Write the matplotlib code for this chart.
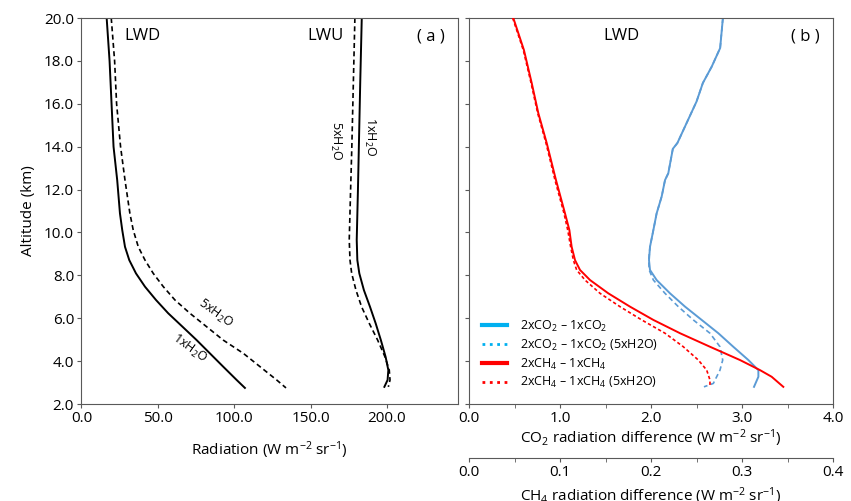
import matplotlib
matplotlib.use("Agg")
import matplotlib.pyplot as plt
from matplotlib.lines import Line2D

plt.rcParams['font.family'] = ['Open Sans', 'DejaVu Sans']
plt.rcParams['mathtext.default'] = 'regular'

# ---------------- Panel (a) data ----------------
alt_lwd1 = [20, 18, 16, 14, 12.44, 10.89, 10.11, 9.33, 8.71, 8.09, 7.47, 6.85, 6.23, 5.6, 4.98, 4.36, 3.74, 3.12, 2.75]
lwd_1x = [16.5, 18.4, 19.7, 21.0, 23.4, 25.2, 26.7, 28.5, 31.3, 35.7, 41.6, 48.8, 56.8, 66.2, 75.4, 84.1, 92.8, 101.6, 107.0]

alt_lwd5 = [20, 18, 16, 14, 12.44, 10.89, 10.11, 9.33, 8.71, 8.09, 7.47, 6.85, 6.23, 5.6, 4.98, 4.36, 3.74, 3.12, 2.75]
lwd_5x = [19.5, 21.7, 23.0, 25.6, 28.5, 31.7, 33.9, 37.2, 41.6, 47.0, 53.6, 61.2, 71.0, 82.0, 92.8, 106.0, 116.9, 127.8, 133.9]

alt_lwu1 = [20, 17, 14, 12, 9.65, 8.71, 8.09, 7.31, 6.53, 5.76, 4.98, 4.2, 3.58, 3.12, 2.8]
lwu_1x = [183.5, 182.5, 181.6, 181.0, 180.2, 180.6, 181.9, 184.9, 188.9, 192.6, 196.0, 199.1, 200.9, 200.4, 198.3]

alt_lwu5 = [20, 17, 14, 12, 9.65, 8.71, 8.09, 7.31, 6.53, 5.76, 4.98, 4.2, 3.58, 3.12, 2.8]
lwu_5x = [179.0, 178.0, 177.0, 176.2, 175.3, 175.8, 176.9, 179.7, 183.4, 188.4, 193.9, 198.7, 201.5, 202.0, 200.9]

# ---------------- Panel (b) data ----------------
alt_co2 = [20, 18.6, 17.73, 16.97, 16.1, 15.09, 14.17, 13.9, 12.76, 12.44, 11.67, 10.89, 10.11, 9.33, 8.71, 8.25,
           7.78, 7.16, 6.54, 5.92, 5.30, 4.67, 4.05, 3.58, 3.27, 2.8]
co2_1x = [2.79, 2.76, 2.667, 2.57, 2.50, 2.39, 2.29, 2.24, 2.19, 2.154, 2.117, 2.062, 2.026, 1.989, 1.978, 1.989,
          2.062, 2.209, 2.374, 2.557, 2.74, 2.904, 3.07, 3.18, 3.18, 3.132]
alt_co2_5 = [20, 18.6, 17.73, 16.97, 16.1, 15.09, 14.17, 13.9, 12.76, 12.44, 11.67, 10.89, 10.11, 9.33, 8.71, 8.25,
             7.78, 7.16, 6.54, 5.92, 5.30, 4.67, 4.05, 3.58, 2.96, 2.8]
co2_5x = [2.79, 2.76, 2.667, 2.57, 2.50, 2.39, 2.29, 2.24, 2.19, 2.154, 2.117, 2.062, 2.026, 1.989, 1.975, 1.98,
          2.026, 2.154, 2.30, 2.465, 2.648, 2.758, 2.788, 2.758, 2.685, 2.582]

alt_ch4 = [20, 18.5, 16.97, 15.56, 14.17, 12.44, 10.89, 10.11, 9.33, 8.71, 8.25, 7.78, 7.16, 6.54, 5.92, 5.30,
           4.67, 4.05, 3.58, 3.27, 2.8]
ch4_1x = [0.0487, 0.0604, 0.0689, 0.0762, 0.0854, 0.0956, 0.1055, 0.1103, 0.1128, 0.1165, 0.122, 0.133, 0.1531,
          0.1769, 0.2026, 0.2319, 0.2648, 0.2978, 0.3198, 0.3326, 0.3454]
alt_ch4_5 = [20, 18.5, 16.97, 15.56, 14.17, 12.44, 10.89, 10.11, 9.33, 8.71, 8.25, 7.78, 7.16, 6.54, 5.92, 5.30,
             4.67, 4.05, 3.58, 3.12, 2.8]
ch4_5x = [0.0480, 0.0597, 0.0682, 0.0755, 0.0846, 0.0945, 0.1044, 0.1085, 0.1117, 0.1147, 0.1183, 0.1275, 0.144,
          0.1659, 0.1898, 0.2154, 0.2355, 0.252, 0.2612, 0.2648, 0.2648]

yticks = [2, 4, 6, 8, 10, 12, 14, 16, 18, 20]
xticks_a = [0, 50, 100, 150, 200]
xticks_co2 = [0, 1, 2, 3, 4]
xticks_ch4 = [0, 0.1, 0.2, 0.3, 0.4]

legend_labels = ["2xCO$_2$ \u2013 1xCO$_2$", "2xCO$_2$ \u2013 1xCO$_2$ (5xH2O)",
                 "2xCH$_4$ \u2013 1xCH$_4$", "2xCH$_4$ \u2013 1xCH$_4$ (5xH2O)"]

W, H = 851, 501
fig = plt.figure(figsize=(W / 100, H / 100), dpi=100)
spine_col = '#595959'
fs_tick = 11

def px_ax(l, r, t, b):
    return [l / W, 1 - b / H, (r - l) / W, (b - t) / H]

# ---------- Panel (a) ----------
axa = fig.add_axes(px_ax(81, 458, 18, 404))
axa.plot(lwd_1x, alt_lwd1, color='black', lw=1.4)
axa.plot(lwd_5x, alt_lwd5, color='black', lw=1.2, ls=(0, (3, 2)))
axa.plot(lwu_1x, alt_lwu1, color='black', lw=1.4)
axa.plot(lwu_5x, alt_lwu5, color='black', lw=1.2, ls=(0, (3, 2)))
axa.set_xlim(-0.3, 246.5)
axa.set_ylim(2, 20)
axa.set_yticks(yticks)
axa.set_yticklabels([f"{v:.1f}" for v in yticks])
axa.set_xticks(xticks_a)
axa.set_xticklabels([f"{v:.1f}" for v in xticks_a])
axa.tick_params(labelsize=fs_tick, length=3, color=spine_col, pad=2)
axa.set_ylabel("Altitude (km)", fontsize=fs_tick, labelpad=6)
axa.set_xlabel("Radiation (W m$^{-2}$ sr$^{-1}$)", fontsize=fs_tick, labelpad=10)
for s in axa.spines.values():
    s.set_color(spine_col)

axa.text(39.6, 19.15, "LWD", fontsize=12, ha='center', va='center')
axa.text(160.0, 19.15, "LWU", fontsize=12, ha='center', va='center')
axa.text(228.5, 19.15, "( a )", fontsize=12, ha='center', va='center')
axa.text(166.5, 14.3, "5xH$_2$O", fontsize=9, rotation=270, ha='center', va='center')
axa.text(188.5, 14.45, "1xH$_2$O", fontsize=9, rotation=270, ha='center', va='center')
axa.text(87.5, 6.2, "5xH$_2$O", fontsize=9, rotation=-36, ha='center', va='center')
axa.text(70.5, 4.6, "1xH$_2$O", fontsize=9, rotation=-36, ha='center', va='center')

# ---------- Panel (b) ----------
axb = fig.add_axes(px_ax(469, 833, 18, 404))
axb.plot(co2_1x, alt_co2, color='#5b9bd5', lw=1.4)
axb.plot(co2_5x, alt_co2_5, color='#5b9bd5', lw=1.2, ls=(0, (3, 2)))
axb.set_xlim(0, 4)
axb.set_ylim(2, 20)
axb.set_yticks(yticks)
axb.set_yticklabels([])
axb.set_xticks(xticks_co2)
axb.set_xticklabels([f"{v:.1f}" for v in xticks_co2])
axb.set_xticks([0.5, 1.5, 2.5, 3.5], minor=True)
axb.tick_params(labelsize=fs_tick, length=3, color=spine_col, pad=2)
axb.tick_params(which='minor', length=3, color=spine_col)
axb.set_xlabel("CO$_2$ radiation difference (W m$^{-2}$ sr$^{-1}$)", fontsize=fs_tick, labelpad=1)
for s in axb.spines.values():
    s.set_color(spine_col)
axb.text(1.67, 19.15, "LWD", fontsize=12, ha='center', va='center')
axb.text(3.70, 19.15, "( b )", fontsize=12, ha='center', va='center')

ax2 = axb.twiny()
ax2.plot(ch4_1x, alt_ch4, color='#ff0000', lw=1.4)
ax2.plot(ch4_5x, alt_ch4_5, color='#ff0000', lw=1.2, ls=(0, (2, 1.5)))
ax2.set_xlim(0, 0.4)
ax2.set_ylim(2, 20)
ax2.xaxis.set_ticks_position('bottom')
ax2.xaxis.set_label_position('bottom')
ax2.spines['bottom'].set_position(('outward', 54 * 72 / 100))
for k in ['top', 'left', 'right']:
    ax2.spines[k].set_visible(False)
ax2.spines['bottom'].set_color(spine_col)
ax2.set_xticks(xticks_ch4)
ax2.set_xticklabels([f"{v:.1f}" for v in xticks_ch4])
ax2.set_xticks([0.05, 0.15, 0.25, 0.35], minor=True)
ax2.tick_params(labelsize=fs_tick, length=3, color=spine_col, pad=2)
ax2.tick_params(which='minor', length=3, color=spine_col)
ax2.set_xlabel("CH$_4$ radiation difference (W m$^{-2}$ sr$^{-1}$)", fontsize=fs_tick, labelpad=4)

handles = [Line2D([], [], color='#00b0f0', lw=3),
           Line2D([], [], color='#00b0f0', lw=2, ls=':'),
           Line2D([], [], color='#ff0000', lw=3),
           Line2D([], [], color='#ff0000', lw=2, ls=':')]
ax2.legend(handles, legend_labels, loc='lower left', bbox_to_anchor=(0.036, 0.035),
           frameon=False, fontsize=9, handlelength=2.0, handletextpad=1.05,
           labelspacing=0.3, borderaxespad=0.0, borderpad=0.0)

fig.savefig("out.png", dpi=100)
